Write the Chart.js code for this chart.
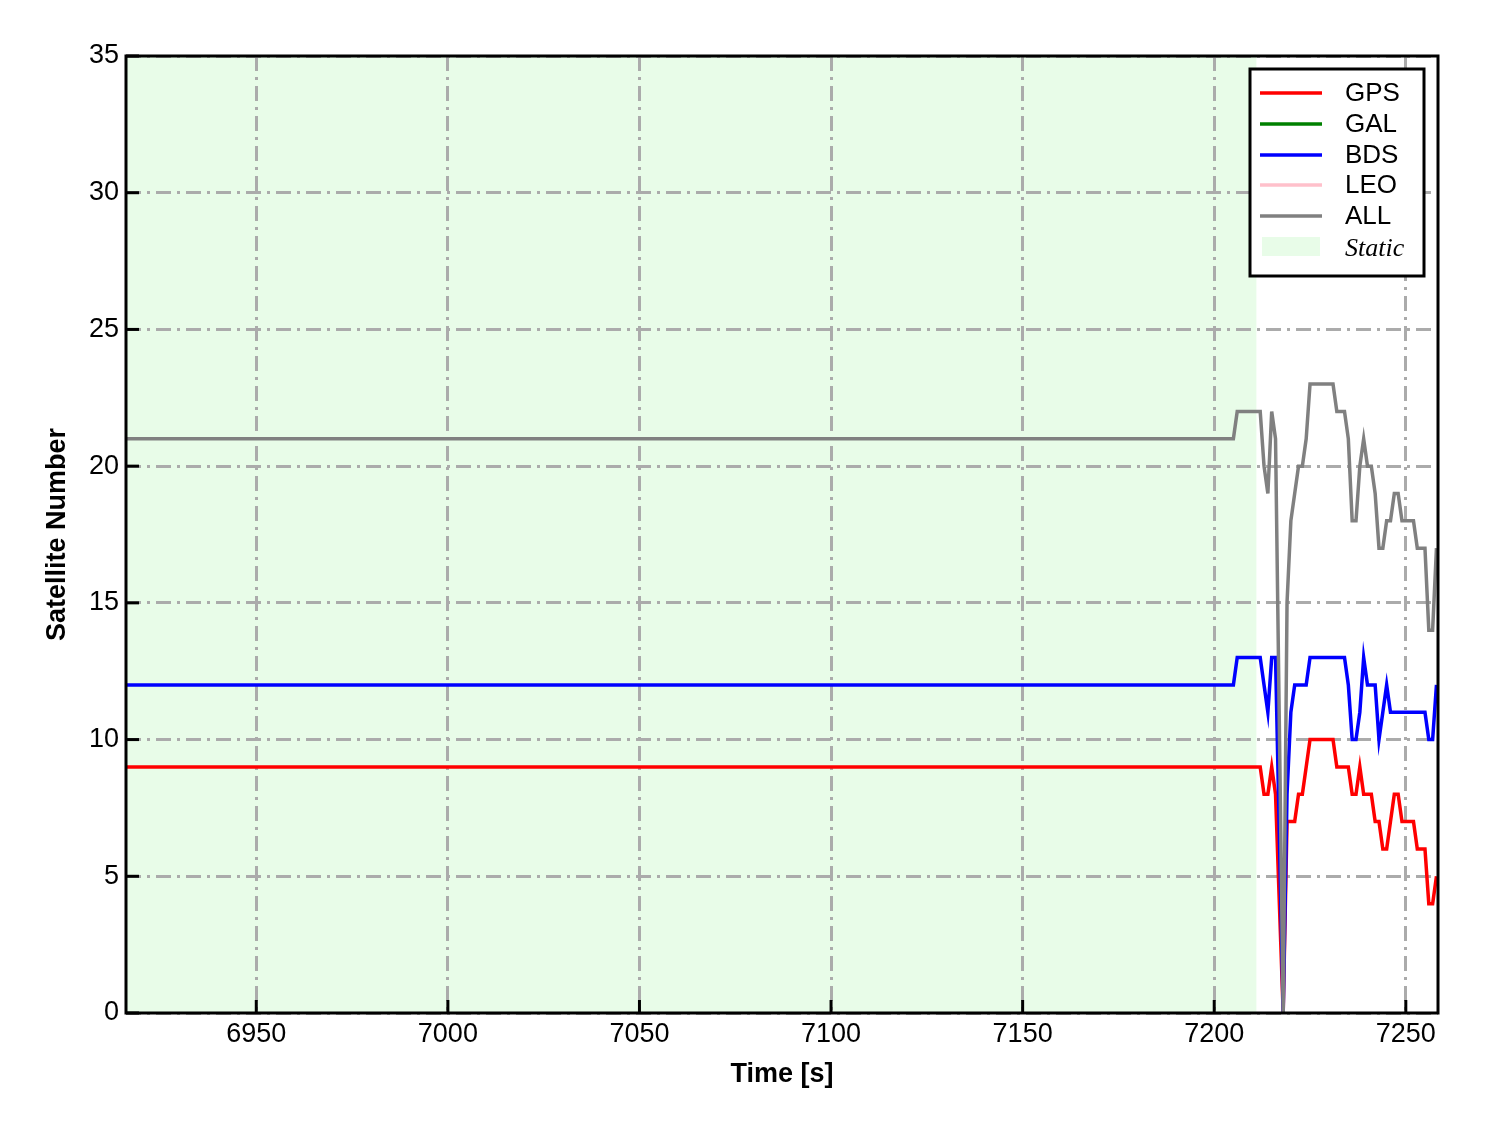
<!DOCTYPE html>
<html>
<head>
<meta charset="utf-8">
<script src="https://cdn.jsdelivr.net/npm/chart.js@4.4.1/dist/chart.umd.min.js"></script>
<style>
  html, body { margin: 0; padding: 0; background: #ffffff; }
</style>
</head>
<body>
<canvas id="satgraph" width="1488" height="1133"></canvas>
<script>
// time stamps [s] (first entry = left edge of the plot, flat before 7205)
const times = [6916, 7205, 7206, 7207, 7208, 7209, 7210, 7211, 7212, 7213, 7214, 7215, 7216,
  7218, 7219, 7220, 7221, 7222, 7223, 7224, 7225, 7226, 7227, 7228, 7229, 7230, 7231, 7232,
  7233, 7234, 7235, 7236, 7237, 7238, 7239, 7240, 7241, 7242, 7243, 7244, 7245, 7246, 7247,
  7248, 7249, 7250, 7251, 7252, 7253, 7254, 7255, 7256, 7257, 7258];

const gpsValues = [9, 9, 9, 9, 9, 9, 9, 9, 9, 8, 8, 9, 8,
  0, 7, 7, 7, 8, 8, 9, 10, 10, 10, 10, 10, 10, 10, 9,
  9, 9, 9, 8, 8, 9, 8, 8, 8, 7, 7, 6, 6, 7, 8,
  8, 7, 7, 7, 7, 6, 6, 6, 4, 4, 5];
const galValues = [];
const bdsValues = [12, 12, 13, 13, 13, 13, 13, 13, 13, 12, 11, 13, 13,
  0, 8, 11, 12, 12, 12, 12, 13, 13, 13, 13, 13, 13, 13, 13,
  13, 13, 12, 10, 10, 11, 13, 12, 12, 12, 10, 11, 12, 11, 11,
  11, 11, 11, 11, 11, 11, 11, 11, 10, 10, 12];
const leoValues = [];
const allValues = [21, 21, 22, 22, 22, 22, 22, 22, 22, 20, 19, 22, 21,
  0, 15, 18, 19, 20, 20, 21, 23, 23, 23, 23, 23, 23, 23, 22,
  22, 22, 21, 18, 18, 20, 21, 20, 20, 19, 17, 17, 18, 18, 19,
  19, 18, 18, 18, 18, 17, 17, 17, 14, 14, 17];

const staticEnd = 7211; // end of the static period [s]
const xMin = 6916, xMax = 7258.4;
const yMin = 0, yMax = 35;
const xTickStep = 50, yTickStep = 5;

const seriesNames = ['GPS', 'GAL', 'BDS', 'LEO', 'ALL'];
const seriesColors = ['#ff0000', '#008000', '#0000ff', '#ffc0cb', '#808080'];
const staticColor = '#e8fce8';
const lineW = 3.5;

function toPoints(vals) {
  return vals.map((v, i) => ({ x: times[i], y: v }));
}

// light green band for the static part, drawn below the grid
const staticBand = {
  id: 'staticBand',
  beforeDraw(chart) {
    const { ctx, chartArea, scales } = chart;
    const xr = scales.x.getPixelForValue(staticEnd);
    ctx.save();
    ctx.fillStyle = staticColor;
    ctx.fillRect(chartArea.left, chartArea.top, xr - chartArea.left, chartArea.bottom - chartArea.top);
    ctx.restore();
  }
};

// frame, inward ticks and legend box
const frameAndLegend = {
  id: 'frameAndLegend',
  afterDraw(chart) {
    const { ctx, chartArea, scales } = chart;
    const a = chartArea;
    ctx.save();
    ctx.strokeStyle = '#000';
    ctx.lineWidth = 3;
    // inward ticks
    const tlen = 13;
    scales.x.ticks.forEach(t => {
      const px = scales.x.getPixelForValue(t.value);
      ctx.beginPath();
      ctx.moveTo(px, a.bottom); ctx.lineTo(px, a.bottom - tlen);
      ctx.stroke();
    });
    scales.y.ticks.forEach(t => {
      const py = scales.y.getPixelForValue(t.value);
      ctx.beginPath();
      ctx.moveTo(a.left, py); ctx.lineTo(a.left + tlen, py);
      ctx.stroke();
    });
    ctx.lineWidth = 3;
    ctx.strokeRect(a.left, a.top, a.right - a.left, a.bottom - a.top);

    // legend
    const lx = 1250, ly = 69, lw = 174, lh = 207;
    ctx.fillStyle = '#fff';
    ctx.fillRect(lx, ly, lw, lh);
    ctx.lineWidth = 3;
    ctx.strokeRect(lx, ly, lw, lh);
    const rowY = [93, 124, 155, 185, 216];
    ctx.font = '26px "Liberation Sans", Arial, sans-serif';
    ctx.textBaseline = 'middle';
    seriesNames.forEach((name, i) => {
      ctx.strokeStyle = seriesColors[i];
      ctx.lineWidth = lineW;
      ctx.beginPath();
      ctx.moveTo(1260, rowY[i]); ctx.lineTo(1322, rowY[i]);
      ctx.stroke();
      ctx.fillStyle = '#000';
      ctx.fillText(name, 1345, rowY[i] + 1);
    });
    ctx.fillStyle = staticColor;
    ctx.fillRect(1262, 237, 58, 19);
    ctx.fillStyle = '#000';
    ctx.font = 'italic 26px "Liberation Serif", "DejaVu Serif", serif';
    ctx.fillText('Static', 1345, 249);
    ctx.restore();
  }
};

const gridDash = [15, 6, 3, 6];
const tickFont = { family: '"Liberation Sans", Arial, sans-serif', size: 27 };
const titleFont = { family: '"Liberation Sans", Arial, sans-serif', size: 27, weight: 'bold' };

const ctx = document.getElementById('satgraph').getContext('2d');
const satChart = new Chart(ctx, {
  type: 'line',
  data: {
    datasets: [
      { label: 'ALL', data: toPoints(allValues), borderColor: seriesColors[4], borderWidth: lineW, order: 1 },
      { label: 'LEO', data: toPoints(leoValues), borderColor: seriesColors[3], borderWidth: lineW, order: 2 },
      { label: 'BDS', data: toPoints(bdsValues), borderColor: seriesColors[2], borderWidth: lineW, order: 3 },
      { label: 'GAL', data: toPoints(galValues), borderColor: seriesColors[1], borderWidth: lineW, order: 4 },
      { label: 'GPS', data: toPoints(gpsValues), borderColor: seriesColors[0], borderWidth: lineW, order: 5 }
    ]
  },
  options: {
    responsive: false,
    animation: false,
    events: [],
    layout: { padding: { left: 0, top: 56, right: 50, bottom: 0 } },
    elements: {
      line: { tension: 0, fill: false },
      point: { radius: 0 }
    },
    plugins: {
      legend: { display: false },
      tooltip: { enabled: false }
    },
    scales: {
      x: {
        type: 'linear',
        min: xMin,
        max: xMax,
        afterFit: s => { s.height = 120; },
        grid: { color: '#ababab', lineWidth: 3, drawTicks: false },
        border: { display: false, dash: gridDash },
        ticks: {
          stepSize: xTickStep,
          includeBounds: false,
          padding: 5,
          color: '#000',
          font: tickFont,
          maxRotation: 0,
          callback: v => String(v)
        },
        title: {
          display: true,
          text: 'Time [s]',
          color: '#000',
          font: titleFont,
          padding: { top: 0, bottom: 42 }
        }
      },
      y: {
        min: yMin,
        max: yMax,
        afterFit: s => { s.width = 126; },
        grid: { color: '#ababab', lineWidth: 3, drawTicks: false },
        border: { display: false, dash: gridDash },
        ticks: {
          stepSize: yTickStep,
          padding: 7,
          color: '#000',
          font: tickFont
        },
        title: {
          display: true,
          text: 'Satellite Number',
          color: '#000',
          font: titleFont,
          padding: { top: 41, bottom: 0 }
        }
      }
    }
  },
  plugins: [staticBand, frameAndLegend]
});
</script>
</body>
</html>
